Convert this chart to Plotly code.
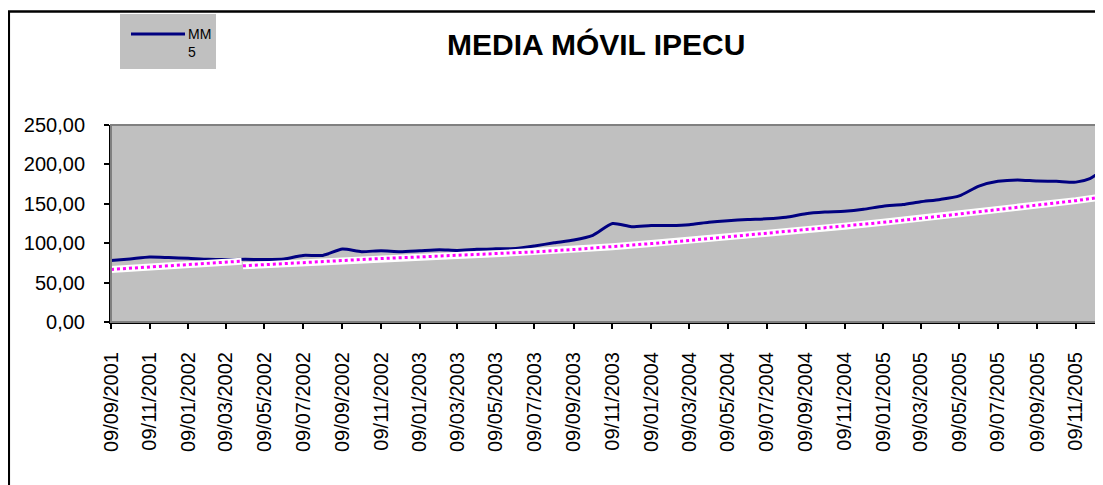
import plotly.graph_objects as go

# ---------------- data ----------------
mm_dates = [
    "2001-09-09", "2001-10-09", "2001-11-09", "2001-12-09", "2002-01-09", "2002-02-09",
    "2002-03-09", "2002-04-09", "2002-05-09", "2002-06-09", "2002-07-09", "2002-08-09",
    "2002-09-09", "2002-10-09", "2002-11-09", "2002-12-09", "2003-01-09", "2003-02-09",
    "2003-03-09", "2003-04-09", "2003-05-09", "2003-06-09", "2003-07-09", "2003-08-09",
    "2003-09-09", "2003-10-09", "2003-11-09", "2003-12-09", "2004-01-09", "2004-02-09",
    "2004-03-09", "2004-04-09", "2004-05-09", "2004-06-09", "2004-07-09", "2004-08-09",
    "2004-09-09", "2004-10-09", "2004-11-09", "2004-12-09", "2005-01-09", "2005-02-09",
    "2005-03-09", "2005-04-09", "2005-05-09", "2005-06-09", "2005-07-09", "2005-08-09",
    "2005-09-09", "2005-10-09", "2005-11-09", "2005-12-01", "2005-12-17",
]
mm_values = [
    78.0, 80.0, 82.5, 81.8, 80.8, 79.5,
    79.2, 79.5, 79.3, 80.0, 84.5, 84.5,
    92.5, 89.3, 90.5, 89.3, 90.5, 91.8,
    90.8, 92.2, 92.8, 93.3, 96.5, 100.5,
    104.0, 110.0, 125.0, 121.0, 122.5, 122.5,
    123.5, 126.5, 128.5, 130.0, 131.0, 133.0,
    137.5, 139.5, 140.5, 143.0, 147.0, 149.0,
    152.5, 155.5, 160.0, 172.5, 178.5, 180.3,
    178.8, 178.5, 177.5, 182.0, 190.0,
]

trend_dates = [
    "2001-09-09", "2001-12-09", "2002-04-03", "2002-04-04",
    "2002-04-05", "2002-05-09", "2002-07-09", "2002-09-09", "2002-11-09",
    "2003-01-09", "2003-03-09", "2003-05-09", "2003-07-09", "2003-09-09",
    "2003-11-09", "2004-01-09", "2004-03-09", "2004-05-09", "2004-07-09",
    "2004-09-09", "2004-11-09", "2005-01-09", "2005-03-09", "2005-05-09",
    "2005-07-09", "2005-09-09", "2005-11-09", "2005-12-17",
]
trend_values = [
    66.7, 71.2, 77.2, None,
    71.3, 72.8, 75.5, 78.3, 80.6,
    82.6, 84.5, 86.5, 89.0, 92.0,
    95.5, 99.5, 103.5, 108.0, 112.5,
    117.0, 121.5, 126.5, 131.5, 137.0,
    142.5, 148.0, 154.0, 158.3,
]

y_ticks = [0, 50, 100, 150, 200, 250]
title_text = "MEDIA MÓVIL IPECU"
legend_text = "MM<br>5"

# ---------------- layout geometry ----------------
# the page body has an 8px margin, so the figure is shifted by 8px
OFF = 8
W, H = 1103 - OFF, 485 - OFF
PL, PR, PT, PB = 111, 1100, 125, 322          # plot area in page pixels
L, T = PL - OFF, PT - OFF
R, B = W - (PR - OFF), H - (PB - OFF)
PW, PH = PR - PL, PB - PT


def px(x):
    return (x - PL) / PW


def py(y):
    return (PB - y) / PH


FONT = "Arial, 'Liberation Sans', sans-serif"

fig = go.Figure()

fig.add_trace(go.Scatter(
    x=mm_dates, y=mm_values, mode="lines",
    line=dict(color="#000080", width=3, shape="spline", smoothing=0.6),
    name="MM 5", showlegend=False, hoverinfo="x+y",
))
fig.add_trace(go.Scatter(
    x=trend_dates, y=trend_values, mode="lines", connectgaps=False,
    line=dict(color="#FFFFFF", width=7),
    showlegend=False, hoverinfo="skip",
))
fig.add_trace(go.Scatter(
    x=trend_dates, y=trend_values, mode="lines", connectgaps=False,
    line=dict(color="#FF00FF", width=3, dash="dot"),
    showlegend=False, hoverinfo="skip",
))

shapes = [
    # plot-area border (grey)
    dict(type="rect", xref="paper", yref="paper", x0=0, x1=1, y0=0, y1=1,
         line=dict(color="#808080", width=2), fillcolor="rgba(0,0,0,0)", layer="above"),
    # outer chart border
    dict(type="rect", xref="paper", yref="paper",
         x0=px(8.8), x1=px(1115), y0=py(500), y1=py(11.5),
         line=dict(color="#000000", width=2.5), fillcolor="rgba(0,0,0,0)", layer="above"),
    # legend box
    dict(type="rect", xref="paper", yref="paper",
         x0=px(120), x1=px(216), y0=py(69), y1=py(14),
         line=dict(width=0), fillcolor="#C0C0C0", layer="below"),
    # legend line sample
    dict(type="line", xref="paper", yref="paper",
         x0=px(131), x1=px(185), y0=py(34), y1=py(34),
         line=dict(color="#000080", width=3)),
]

annotations = [
    dict(text="<b>" + title_text + "</b>", xref="paper", yref="paper",
         x=px(596), y=py(45), xanchor="center", yanchor="middle",
         showarrow=False, font=dict(family=FONT, size=30, color="#000000")),
    dict(text=legend_text, xref="paper", yref="paper",
         x=px(186), y=py(24), xanchor="left", yanchor="top", align="left",
         showarrow=False, font=dict(family=FONT, size=14, color="#000000")),
]

fig.update_layout(
    width=W, height=H,
    margin=dict(l=L, r=R, t=T, b=B, pad=0),
    paper_bgcolor="#FFFFFF",
    plot_bgcolor="#C0C0C0",
    separators=",.",
    showlegend=False,
    shapes=shapes,
    annotations=annotations,
    font=dict(family=FONT, color="#000000"),
)

fig.update_xaxes(
    type="date",
    range=["2001-09-09", "2005-12-17"],
    tick0="2001-09-09", dtick="M2",
    tickformat="%d/%m/%Y", tickangle=-90,
    ticks="outside", ticklen=5, tickcolor="#000000", tickwidth=1.5,
    showline=True, linecolor="#000000", linewidth=2,
    showgrid=False, zeroline=False,
    tickfont=dict(family=FONT, size=20, color="#000000"),
    ticklabelstandoff=15,
)
fig.update_yaxes(
    range=[0, 250], tickvals=y_ticks, tickformat=".2f",
    ticks="outside", ticklen=5, tickcolor="#000000", tickwidth=1.5,
    showline=True, linecolor="#000000", linewidth=2,
    showgrid=False, zeroline=False,
    tickfont=dict(family=FONT, size=20, color="#000000"),
    ticklabelstandoff=15,
)

fig.write_html("out.html")
